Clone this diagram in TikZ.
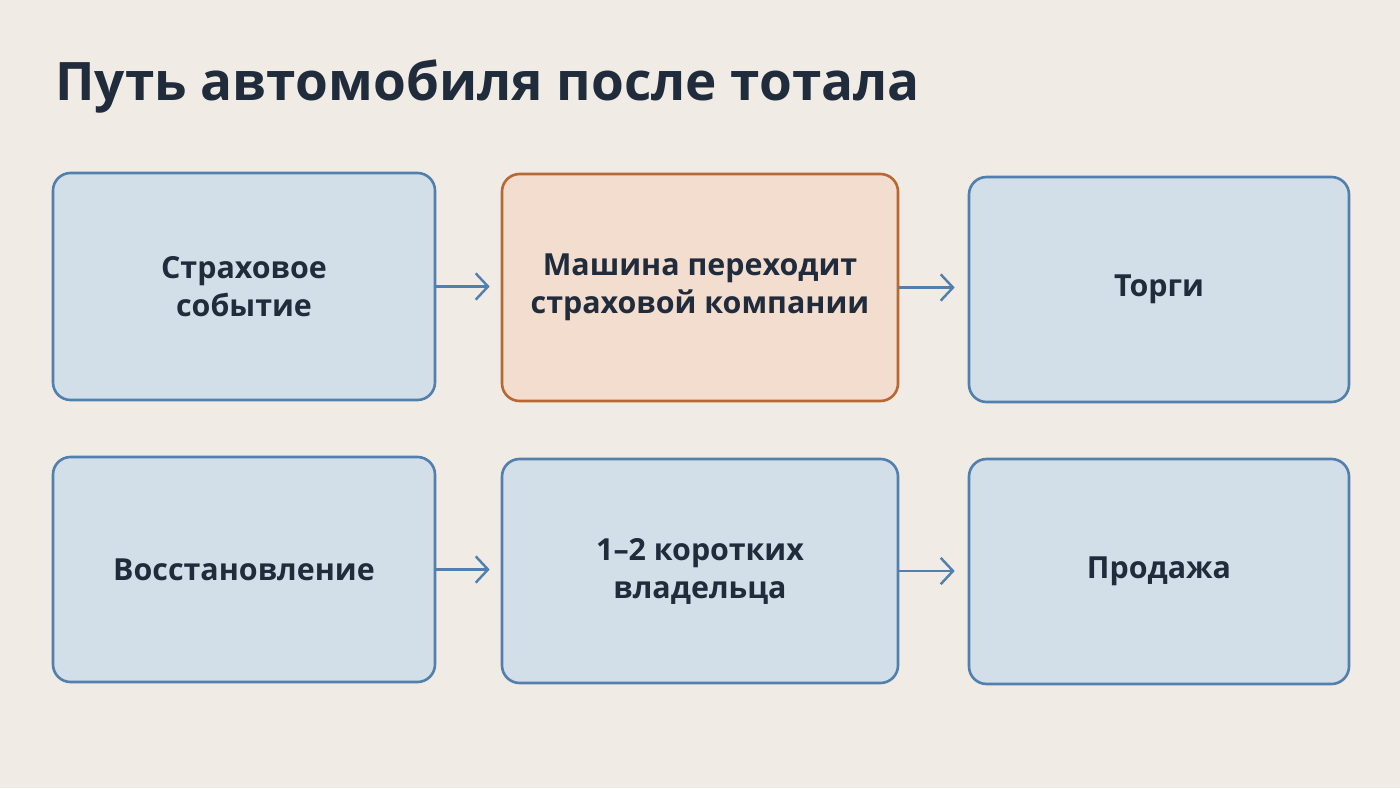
\documentclass[tikz,border=0pt]{standalone}
\usepackage{fontspec}
\setmainfont{Open Sans}
\usepackage{tikz}
\usetikzlibrary{positioning,arrows.meta}
\definecolor{bgpaper}{RGB}{240,236,229}
\definecolor{stepfill}{RGB}{211,223,232}
\definecolor{stepdraw}{RGB}{82,128,174}
\definecolor{hotfill}{RGB}{242,221,207}
\definecolor{hotdraw}{RGB}{184,104,50}
\definecolor{inkc}{RGB}{32,44,60}

\begin{document}
\begin{tikzpicture}[
  box/.style={rounded corners=10pt, draw=stepdraw, fill=stepfill, line width=1.5pt, align=center,
    font=\fontsize{17.3}{21.6}\selectfont\bfseries, text=inkc, inner sep=0pt},
  hot/.style={box, draw=hotdraw, fill=hotfill},
  arr/.style={-{Straight Barb[length=7pt,width=15pt,line width=1.4pt]}, draw=stepdraw, line width=1.4pt},
]
\def\ax{4.88}   % left column centre
\def\bx{14.0}   % middle column centre
\def\cx{23.18}  % right column centre

% ---- canvas ----
\fill[bgpaper] (0,0) rectangle (28,-15.76);
\useasboundingbox (0,0) rectangle (28,-15.76);

% ---- title ----
\node[anchor=base west, inner sep=0pt, text=inkc, font=\fontsize{30.2}{34}\selectfont\bfseries] (title) at (1.1,-2.0)
  {Путь автомобиля после тотала};

% top row
\node[box, minimum width=7.64cm, minimum height=4.54cm] (event) at (\ax,-5.73) {Страховое\\событие};
\node[hot, minimum width=7.92cm, minimum height=4.54cm] (insurer) at (\bx,-5.75) {Машина переходит\\страховой компании};
\node[box, minimum width=7.6cm, minimum height=4.5cm] (auction) at (\cx,-5.79) {Торги};

% bottom row
\node[box, minimum width=7.64cm, minimum height=4.5cm] (repair) at (\ax,-11.39) {Восстановление};
\node[box, minimum width=7.92cm, minimum height=4.48cm] (owners) at (\bx,-11.42) {1--2 коротких\\владельца};
\node[box, minimum width=7.6cm, minimum height=4.5cm] (sale) at (\cx,-11.43) {Продажа};

% ---- arrows ----
\draw[arr, shorten >=0.22cm] (event.east) -- (event.east -| insurer.west);
\draw[arr, shorten >=0.26cm] (insurer.east) -- (insurer.east -| auction.west);
\draw[arr, shorten >=0.22cm] (repair.east) -- (repair.east -| owners.west);
\draw[arr, shorten >=0.26cm] (owners.east) -- (owners.east -| sale.west);

\end{tikzpicture}
\end{document}
